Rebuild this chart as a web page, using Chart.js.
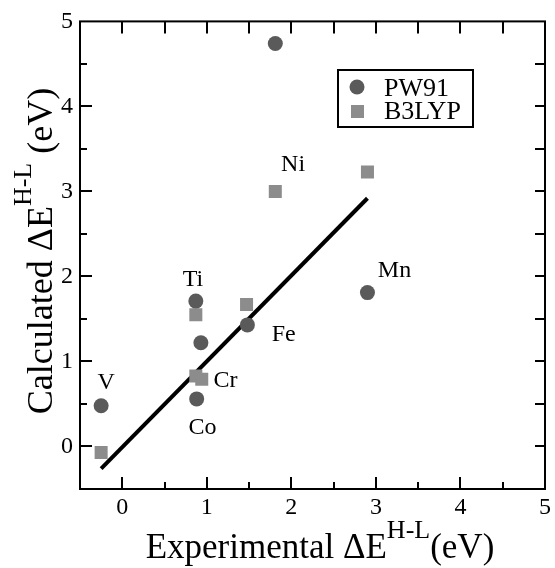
<!DOCTYPE html>
<html><head><meta charset="utf-8">
<script src="https://cdn.jsdelivr.net/npm/chart.js@4/dist/chart.umd.min.js"></script>
<style>html,body{margin:0;padding:0;background:#fff;}canvas{display:block;}</style>
</head><body>
<canvas id="c" width="555" height="568"></canvas>
<script>
// ---- data ----
const elements = ['V', 'Ti', 'Cr', 'Fe', 'Co', 'Ni', 'Mn'];
const expPW91   = [-0.25, 0.87, 0.93, 1.48, 0.88, 1.81, 2.90];
const calcPW91  = [ 0.48, 1.71, 1.22, 1.43, 0.56, 4.74, 1.81];
const expB3LYP  = [-0.25, 0.87, 0.94, 1.47, 0.87, 1.81, 2.90];
const calcB3LYP = [-0.07, 1.55, 0.79, 1.67, 0.83, 3.00, 3.23];
const fitX = [-0.25, 2.90];
const fitY = [-0.26, 2.92];
// element label anchors (data units)
const labelText = ['V', 'Ti', 'Cr', 'Fe', 'Co', 'Ni', 'Mn'];
const labelX = [-0.19, 0.835, 1.22, 1.91, 0.95, 2.02, 3.22];
const labelY = [ 0.77, 1.98, 0.79, 1.34, 0.24, 3.33, 2.09];
const xTicks = [0, 1, 2, 3, 4, 5];
const yTicks = [0, 1, 2, 3, 4, 5];

const SERIF = '"Liberation Serif","Times New Roman",serif';
const toPts = (xs, ys) => xs.map((x, i) => ({x: x, y: ys[i]}));

const decor = {
  id: 'decor',
  afterDraw(chart) {
    const ctx = chart.ctx, a = chart.chartArea;
    const xs = chart.scales.x, ys = chart.scales.y;
    ctx.save();
    ctx.strokeStyle = '#000';
    ctx.lineWidth = 2;
    ctx.strokeRect(a.left, a.top, a.right - a.left, a.bottom - a.top);
    // inward ticks
    ctx.beginPath();
    for (let v = 0; v <= 4.5001; v += 0.5) {
      const major = Math.abs(v - Math.round(v)) < 1e-6;
      const px = Math.round(xs.getPixelForValue(v));
      ctx.moveTo(px, a.bottom); ctx.lineTo(px, a.bottom - (major ? 12 : 7));
      ctx.moveTo(px, a.top); ctx.lineTo(px, a.top + 12);
      const py = Math.round(ys.getPixelForValue(v));
      ctx.moveTo(a.left, py); ctx.lineTo(a.left + (major ? 12 : 7), py);
      ctx.moveTo(a.right, py); ctx.lineTo(a.right - 10, py);
    }
    ctx.stroke();

    // element labels
    ctx.fillStyle = '#000';
    ctx.font = '24px ' + SERIF;
    ctx.textAlign = 'center';
    ctx.textBaseline = 'alphabetic';
    labelText.forEach((t, i) => {
      ctx.fillText(t, xs.getPixelForValue(labelX[i]), ys.getPixelForValue(labelY[i]) + 8);
    });

    // legend
    const d0 = chart.data.datasets[0], d1 = chart.data.datasets[1];
    ctx.lineWidth = 2;
    ctx.strokeRect(338, 70, 135, 57);
    ctx.fillStyle = d0.backgroundColor;
    ctx.beginPath(); ctx.arc(357, 87, 7.5, 0, Math.PI * 2); ctx.fill();
    ctx.fillStyle = d1.backgroundColor;
    ctx.fillRect(351, 105, 13, 13);
    ctx.fillStyle = '#000';
    ctx.font = '26px ' + SERIF;
    ctx.textAlign = 'left';
    ctx.fillText(d0.label, 384, 96);
    ctx.fillText(d1.label, 384, 119);

    // axis titles with superscripts
    function titleParts(parts, mainSize, supSize) {
      let w = 0;
      parts.forEach(p => {
        ctx.font = (p.sup ? supSize : mainSize) + 'px ' + SERIF;
        p.w = ctx.measureText(p.t).width; w += p.w;
      });
      return w;
    }
    function drawParts(parts, x0, y0, mainSize, supSize, raise) {
      let x = x0;
      parts.forEach(p => {
        ctx.font = (p.sup ? supSize : mainSize) + 'px ' + SERIF;
        ctx.fillText(p.t, x, p.sup ? y0 - raise : y0);
        x += p.w;
      });
    }
    ctx.textAlign = 'left';
    const xt = [{t: 'Experimental \u0394E'}, {t: 'H-L', sup: true}, {t: '(eV)'}];
    const xw = titleParts(xt, 35, 26);
    drawParts(xt, 320 - xw / 2, 558, 35, 26, 20);

    const yt = [{t: 'Calculated \u0394E'}, {t: 'H-L', sup: true}, {t: ' (eV)'}];
    const yw = titleParts(yt, 36, 26);
    ctx.translate(52, 251);
    ctx.rotate(-Math.PI / 2);
    drawParts(yt, -yw / 2, 0, 36, 26, 21);
    ctx.restore();
  }
};

new Chart(document.getElementById('c'), {
  type: 'scatter',
  data: {
    datasets: [
      {label: 'PW91', data: toPts(expPW91, calcPW91), pointStyle: 'circle', pointRadius: 7.5,
       backgroundColor: '#5a5a5a', borderColor: '#5a5a5a', borderWidth: 0, order: 0},
      {label: 'B3LYP', data: toPts(expB3LYP, calcB3LYP), pointStyle: 'rect', pointRadius: 9.2,
       backgroundColor: '#8c8c8c', borderColor: '#8c8c8c', borderWidth: 0, order: 1},
      {type: 'line', label: 'fit', data: toPts(fitX, fitY), borderColor: '#000', borderWidth: 4,
       pointRadius: 0, fill: false, order: 2, showLine: true}
    ]
  },
  options: {
    responsive: false,
    animation: false,
    layout: {padding: {top: 15, right: 7, left: 0, bottom: 0}},
    plugins: {legend: {display: false}, tooltip: {enabled: false}},
    scales: {
      x: {
        type: 'linear', min: -0.5, max: 5,
        grid: {display: false, drawTicks: false}, border: {display: false},
        afterBuildTicks(s) { s.ticks = xTicks.map(v => ({value: v})); },
        ticks: {font: {family: SERIF, size: 24}, color: '#000', padding: 4, maxRotation: 0},
        afterFit(s) { s.height = 79; }
      },
      y: {
        type: 'linear', min: -0.5, max: 5,
        grid: {display: false, drawTicks: false}, border: {display: false},
        afterBuildTicks(s) { s.ticks = yTicks.map(v => ({value: v})); },
        ticks: {font: {family: SERIF, size: 24}, color: '#000', padding: 7},
        afterFit(s) { s.width = 80; }
      }
    }
  },
  plugins: [decor]
});
</script>
</body></html>
